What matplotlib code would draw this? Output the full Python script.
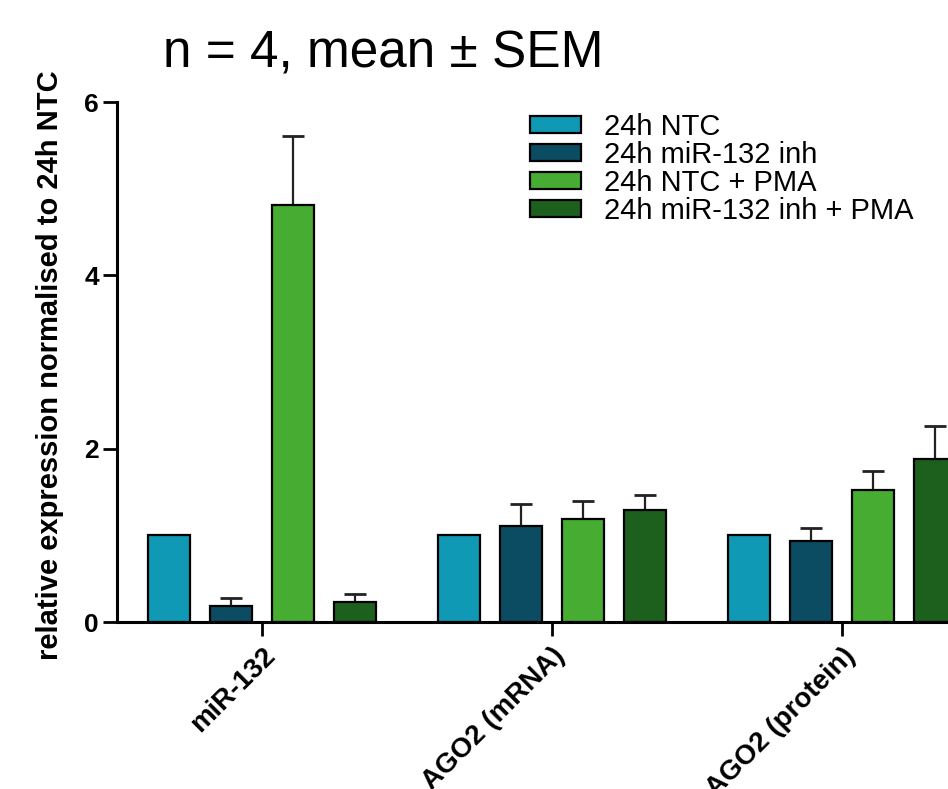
import matplotlib
matplotlib.use("Agg")
import matplotlib.pyplot as plt
import numpy as np

plt.rcParams['font.family'] = ['Liberation Sans', 'DejaVu Sans']

categories = ["miR-132", "AGO2 (mRNA)", "AGO2 (protein)"]
series = ["24h NTC", "24h miR-132 inh", "24h NTC + PMA", "24h miR-132 inh + PMA"]
means = [
    [1.00, 1.00, 1.00],
    [0.18, 1.11, 0.94],
    [4.81, 1.19, 1.52],
    [0.23, 1.29, 1.88],
]
sems = [
    [0.00, 0.00, 0.00],
    [0.10, 0.25, 0.14],
    [0.80, 0.21, 0.22],
    [0.09, 0.18, 0.38],
]
colors = ["#0f99b5", "#0b4c62", "#46ad32", "#1d601d"]
yticks = [0, 2, 4, 6]

W, H = 948, 789
fig = plt.figure(figsize=(W / 100, H / 100), dpi=100)
ax = fig.add_axes([117 / W, (H - 622) / H, 870 / W, 520 / H])

x = np.arange(len(categories))
step = 0.214
width = 0.145
for i, (name, m, e, c) in enumerate(zip(series, means, sems, colors)):
    pos = x + (i - 1.5) * step
    ax.bar(pos, m, width=width, color=c, edgecolor="black", linewidth=1.6,
           label=name, zorder=2)
    if any(v > 0 for v in e):
        ax.errorbar(pos, m, yerr=[np.zeros(len(e)), e], fmt="none",
                    ecolor="#222222", elinewidth=1.6, capsize=8,
                    capthick=2.0, zorder=1)

ax.set_xlim(-0.5, 2.5)
ax.set_ylim(0, 6)
ax.set_yticks(yticks)
ax.set_yticklabels([str(t) for t in yticks], fontsize=19, fontweight="bold")
ax.set_xticks(x)
ax.set_xticklabels(categories, rotation=45, ha="right", rotation_mode="anchor",
                   fontsize=20, fontweight="bold")
for sp in ["top", "right"]:
    ax.spines[sp].set_visible(False)
for sp in ["left", "bottom"]:
    ax.spines[sp].set_linewidth(2.2)
ax.tick_params(axis="y", direction="out", width=2.0, length=10, pad=3)
ax.tick_params(axis="x", direction="out", width=2.0, length=10, pad=5)

ax.set_ylabel("relative expression normalised to 24h NTC", fontsize=21,
              fontweight="bold")
ax.yaxis.set_label_coords(-0.061, 0.494)

fig.text(163 / W, 1 - 67 / H, "n = 4, mean ± SEM", fontsize=37,
         ha="left", va="baseline")

leg = fig.legend(loc="upper left", bbox_to_anchor=(530 / W, 1 - 113 / H),
                 frameon=False, fontsize=21, handlelength=1.75,
                 handleheight=0.55, labelspacing=0.0, handletextpad=0.8,
                 borderaxespad=0, borderpad=0)

fig.savefig("out.png", dpi=100)
